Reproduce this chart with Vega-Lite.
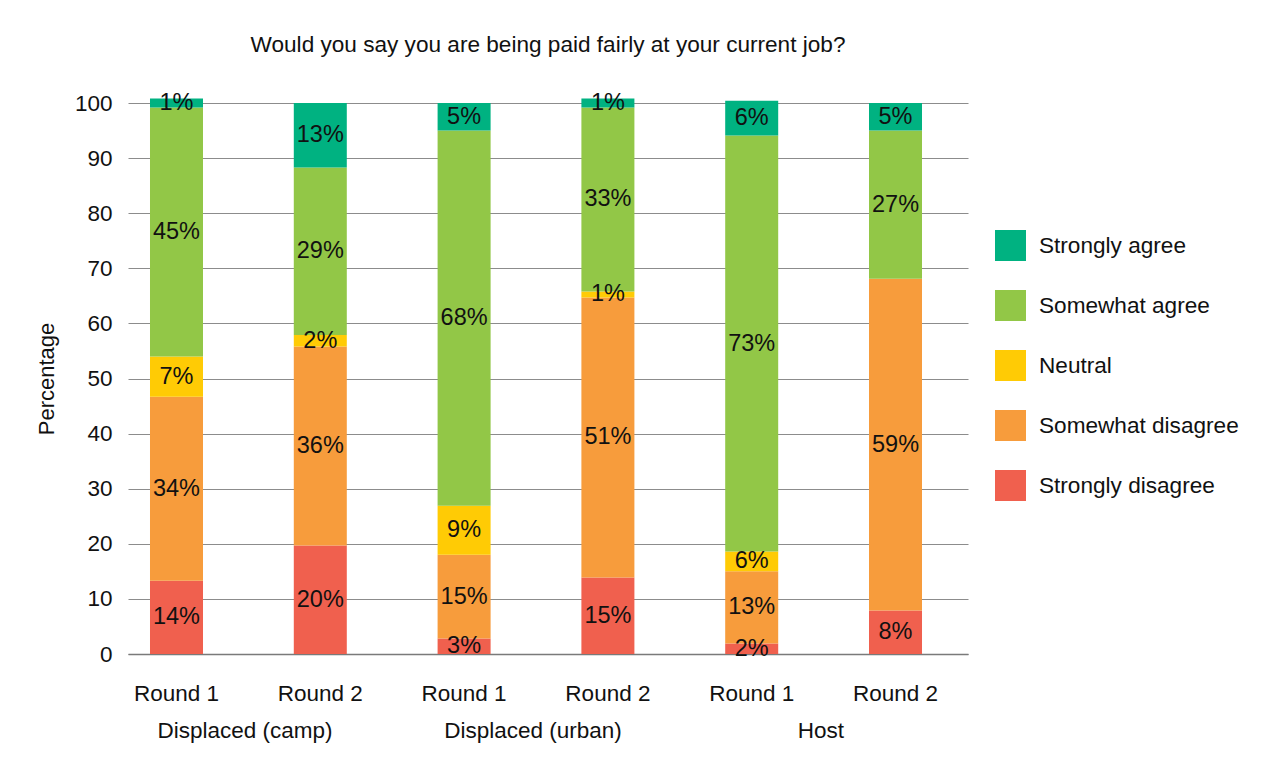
{
  "$schema": "https://vega.github.io/schema/vega-lite/v6.json",
  "autosize": {"type": "none"},
  "padding": {"left": 128, "top": 103, "right": 312, "bottom": 120},
  "width": 840,
  "height": 551,
  "background": "white",
  "config": {"font": "Liberation Sans", "view": {"stroke": null}},
  "title": {
    "text": "Would you say you are being paid fairly at your current job?",
    "frame": "group", "anchor": "middle", "baseline": "alphabetic", "offset": 16,
    "fontSize": 22.6, "fontWeight": "normal", "color": "#111111"
  },
  "data": {"values": [
    {"group": "Displaced (camp)", "bar": "Displaced (camp)|Round 1", "response": "Strongly disagree", "rank": 1, "value": 13.3, "label": "14%"},
    {"group": "Displaced (camp)", "bar": "Displaced (camp)|Round 1", "response": "Somewhat disagree", "rank": 2, "value": 33.4, "label": "34%"},
    {"group": "Displaced (camp)", "bar": "Displaced (camp)|Round 1", "response": "Neutral", "rank": 3, "value": 7.3, "label": "7%"},
    {"group": "Displaced (camp)", "bar": "Displaced (camp)|Round 1", "response": "Somewhat agree", "rank": 4, "value": 45.2, "label": "45%"},
    {"group": "Displaced (camp)", "bar": "Displaced (camp)|Round 1", "response": "Strongly agree", "rank": 5, "value": 1.6, "label": "1%"},
    {"group": "Displaced (camp)", "bar": "Displaced (camp)|Round 2", "response": "Strongly disagree", "rank": 1, "value": 19.7, "label": "20%"},
    {"group": "Displaced (camp)", "bar": "Displaced (camp)|Round 2", "response": "Somewhat disagree", "rank": 2, "value": 36.1, "label": "36%"},
    {"group": "Displaced (camp)", "bar": "Displaced (camp)|Round 2", "response": "Neutral", "rank": 3, "value": 2.1, "label": "2%"},
    {"group": "Displaced (camp)", "bar": "Displaced (camp)|Round 2", "response": "Somewhat agree", "rank": 4, "value": 30.4, "label": "29%"},
    {"group": "Displaced (camp)", "bar": "Displaced (camp)|Round 2", "response": "Strongly agree", "rank": 5, "value": 11.7, "label": "13%"},
    {"group": "Displaced (urban)", "bar": "Displaced (urban)|Round 1", "response": "Strongly disagree", "rank": 1, "value": 2.8, "label": "3%"},
    {"group": "Displaced (urban)", "bar": "Displaced (urban)|Round 1", "response": "Somewhat disagree", "rank": 2, "value": 15.2, "label": "15%"},
    {"group": "Displaced (urban)", "bar": "Displaced (urban)|Round 1", "response": "Neutral", "rank": 3, "value": 8.9, "label": "9%"},
    {"group": "Displaced (urban)", "bar": "Displaced (urban)|Round 1", "response": "Somewhat agree", "rank": 4, "value": 68.1, "label": "68%"},
    {"group": "Displaced (urban)", "bar": "Displaced (urban)|Round 1", "response": "Strongly agree", "rank": 5, "value": 5.0, "label": "5%"},
    {"group": "Displaced (urban)", "bar": "Displaced (urban)|Round 2", "response": "Strongly disagree", "rank": 1, "value": 13.9, "label": "15%"},
    {"group": "Displaced (urban)", "bar": "Displaced (urban)|Round 2", "response": "Somewhat disagree", "rank": 2, "value": 50.8, "label": "51%"},
    {"group": "Displaced (urban)", "bar": "Displaced (urban)|Round 2", "response": "Neutral", "rank": 3, "value": 1.1, "label": "1%"},
    {"group": "Displaced (urban)", "bar": "Displaced (urban)|Round 2", "response": "Somewhat agree", "rank": 4, "value": 33.4, "label": "33%"},
    {"group": "Displaced (urban)", "bar": "Displaced (urban)|Round 2", "response": "Strongly agree", "rank": 5, "value": 1.6, "label": "1%"},
    {"group": "Host", "bar": "Host|Round 1", "response": "Strongly disagree", "rank": 1, "value": 1.9, "label": "2%"},
    {"group": "Host", "bar": "Host|Round 1", "response": "Somewhat disagree", "rank": 2, "value": 13.1, "label": "13%"},
    {"group": "Host", "bar": "Host|Round 1", "response": "Neutral", "rank": 3, "value": 3.6, "label": "6%"},
    {"group": "Host", "bar": "Host|Round 1", "response": "Somewhat agree", "rank": 4, "value": 75.5, "label": "73%"},
    {"group": "Host", "bar": "Host|Round 1", "response": "Strongly agree", "rank": 5, "value": 6.3, "label": "6%"},
    {"group": "Host", "bar": "Host|Round 2", "response": "Strongly disagree", "rank": 1, "value": 7.9, "label": "8%"},
    {"group": "Host", "bar": "Host|Round 2", "response": "Somewhat disagree", "rank": 2, "value": 60.2, "label": "59%"},
    {"group": "Host", "bar": "Host|Round 2", "response": "Somewhat agree", "rank": 4, "value": 26.9, "label": "27%"},
    {"group": "Host", "bar": "Host|Round 2", "response": "Strongly agree", "rank": 5, "value": 5.0, "label": "5%"}
  ]},
  "layer": [
    {
      "layer": [
        {
          "mark": {"type": "bar"},
          "encoding": {
            "x": {
              "field": "bar", "type": "nominal", "sort": null,
              "scale": {"paddingInner": 0.6314, "paddingOuter": 0.2364, "align": 0.3235},
              "axis": {
                "title": null, "labelExpr": "split(datum.label, '|')[1]", "labelAngle": 0,
                "ticks": false, "tickSize": 0, "grid": false,
                "domain": true, "domainColor": "#7a7a7a", "domainWidth": 1.5,
                "labelFontSize": 22.5, "labelColor": "#111111", "labelPadding": 28, "labelBaseline": "top"
              }
            },
            "y": {
              "field": "value", "type": "quantitative", "stack": "zero",
              "scale": {"domain": [0, 100], "nice": false},
              "axis": {
                "title": "Percentage", "titleFontSize": 22, "titleFontWeight": "normal", "titleColor": "#111111", "titlePadding": 16,
                "values": [0, 10, 20, 30, 40, 50, 60, 70, 80, 90, 100],
                "ticks": false, "tickSize": 0, "domain": false,
                "grid": true, "gridColor": "#8c8c8c", "gridWidth": 1.2,
                "labelFontSize": 22.5, "labelColor": "#111111", "labelPadding": 16
              }
            },
            "color": {
              "field": "response", "type": "nominal",
              "scale": {
                "domain": ["Strongly agree", "Somewhat agree", "Neutral", "Somewhat disagree", "Strongly disagree"],
                "range": ["#00B281", "#92C747", "#FFCB05", "#F79C3C", "#F0604E"]
              },
              "legend": {
                "title": null, "orient": "none", "legendX": 867, "legendY": 127,
                "symbolType": "square", "symbolSize": 961, "symbolStrokeWidth": 0, "symbolOpacity": 1,
                "labelFontSize": 22.6, "labelColor": "#111111", "labelOffset": 13, "labelLimit": 400,
                "rowPadding": 29, "padding": 0
              }
            },
            "order": {"field": "rank", "type": "quantitative", "sort": "ascending"}
          }
        },
        {
          "mark": {"type": "text", "fontSize": 23.5, "color": "#111111", "baseline": "middle", "align": "center"},
          "encoding": {
            "x": {"field": "bar", "type": "nominal", "sort": null},
            "y": {"field": "value", "type": "quantitative", "stack": "zero", "bandPosition": 0.5},
            "detail": {"field": "response"},
            "order": {"field": "rank", "type": "quantitative", "sort": "ascending"},
            "text": {"field": "label"}
          }
        }
      ]
    },
    {
      "mark": {"type": "point", "opacity": 0},
      "encoding": {
        "x": {
          "field": "group", "type": "nominal", "sort": null,
          "scale": {"type": "point", "padding": 0.4583, "align": 0.441},
          "axis": {
            "title": null, "orient": "bottom", "labelAngle": 0, "ticks": false, "tickSize": 0,
            "domain": false, "grid": false,
            "labelFontSize": 22.5, "labelColor": "#111111", "labelPadding": 65, "labelBaseline": "top"
          }
        }
      }
    }
  ],
  "resolve": {"scale": {"x": "independent"}, "axis": {"x": "independent"}}
}
